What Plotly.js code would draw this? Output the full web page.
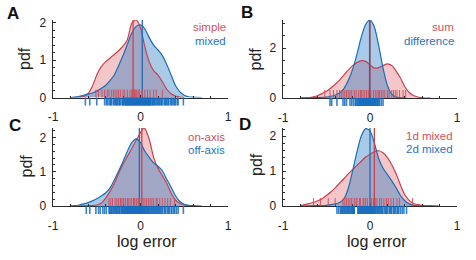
<!DOCTYPE html>
<html><head><meta charset="utf-8">
<script src="https://cdn.plot.ly/plotly-3.0.1.min.js"></script>
<style>html,body{margin:0;padding:0;background:#fff}#chart{width:476px;height:260px}</style>
</head><body><div id="chart"></div>
<script>
// ---------- DATA ----------
// Panel A
const aNames = ['simple', 'mixed'];
const aRedX  = [-0.8,-0.7,-0.65,-0.6,-0.55,-0.5,-0.45,-0.4,-0.35,-0.3,-0.25,-0.2,-0.15,-0.1,-0.05,0,0.05,0.1,0.15,0.2,0.25,0.3,0.35,0.4,0.45,0.5];
const aRedY  = [0,0.01,0.03,0.1,0.3,0.6,0.82,0.95,1.05,1.15,1.25,1.37,1.55,1.98,2.08,1.86,1.35,0.95,0.72,0.6,0.42,0.22,0.1,0.04,0.01,0];
const aBlueX = [-0.8,-0.75,-0.7,-0.65,-0.6,-0.55,-0.5,-0.45,-0.4,-0.35,-0.3,-0.25,-0.2,-0.15,-0.1,-0.05,0,0.05,0.1,0.15,0.2,0.25,0.3,0.35,0.4,0.45,0.5,0.55,0.6,0.7];
const aBlueY = [0,0.01,0.03,0.06,0.09,0.12,0.17,0.24,0.32,0.45,0.6,0.85,1.12,1.42,1.72,1.9,1.94,1.83,1.6,1.4,1.27,1.12,0.88,0.6,0.32,0.15,0.06,0.02,0.01,0];
const aRugRed  = [-0.51,-0.48,-0.44,-0.41,-0.38,-0.36,-0.33,-0.31,-0.29,-0.27,-0.25,-0.23,-0.2,-0.18,-0.15,-0.12,-0.1,-0.09,-0.07,-0.06,-0.05,-0.04,-0.02,-0.01,0.02,0.05,0.08,0.11,0.15,0.18,0.25];
const aRugBlue = [-0.63,-0.58,-0.5,-0.41,-0.39,-0.38,-0.36,-0.345,-0.34,-0.33,-0.31,-0.3,-0.285,-0.28,-0.27,-0.26,-0.245,-0.24,-0.23,-0.21,-0.205,-0.2,-0.19,-0.18,-0.17,-0.165,-0.16,-0.15,-0.145,-0.14,-0.13,-0.125,-0.12,-0.11,-0.105,-0.1,-0.09,-0.085,-0.08,-0.07,-0.065,-0.06,-0.05,-0.045,-0.04,-0.03,-0.025,-0.02,-0.01,-0.005,0,0.01,0.015,0.02,0.03,0.035,0.04,0.05,0.055,0.06,0.07,0.075,0.08,0.09,0.095,0.1,0.11,0.115,0.12,0.135,0.14,0.15,0.16,0.165,0.18,0.19,0.2,0.21,0.22,0.235,0.24,0.25,0.27,0.28,0.29,0.3,0.315,0.32,0.34,0.355,0.36,0.38,0.39,0.4,0.42,0.43,0.49];
const aMed = [-0.085, 0.02];

// Panel B
const bNames = ['sum', 'difference'];
const bRedX  = [-0.8,-0.7,-0.65,-0.6,-0.55,-0.5,-0.45,-0.4,-0.35,-0.3,-0.25,-0.2,-0.15,-0.1,-0.05,0,0.05,0.1,0.15,0.2,0.25,0.3,0.35,0.4,0.45,0.5,0.55,0.6,0.7];
const bRedY  = [0,0.02,0.05,0.1,0.18,0.27,0.4,0.55,0.72,0.92,1.12,1.3,1.42,1.5,1.47,1.33,1.2,1.22,1.3,1.37,1.3,1.08,0.8,0.45,0.22,0.1,0.04,0.01,0];
const bBlueX = [-0.8,-0.7,-0.6,-0.5,-0.45,-0.4,-0.35,-0.3,-0.25,-0.2,-0.15,-0.1,-0.05,0,0.05,0.1,0.15,0.2,0.25,0.3,0.35,0.4];
const bBlueY = [0,0.01,0.02,0.04,0.07,0.12,0.2,0.38,0.7,1.15,1.75,2.45,2.95,3.13,2.85,2.1,1.2,0.5,0.15,0.04,0.01,0];
const bRugRed  = [-0.52,-0.46,-0.42,-0.38,-0.35,-0.33,-0.31,-0.29,-0.27,-0.25,-0.23,-0.21,-0.18,-0.16,-0.13,-0.11,-0.1,-0.08,-0.06,-0.04,-0.02,0.01,0.04,0.06,0.08,0.1,0.11,0.13,0.15,0.17,0.2,0.22,0.25,0.27,0.29,0.31,0.34,0.38,0.41];
const bRugBlue = [-0.46,-0.44,-0.38,-0.31,-0.29,-0.27,-0.23,-0.21,-0.19,-0.17,-0.16,-0.15,-0.14,-0.13,-0.12,-0.115,-0.11,-0.1,-0.095,-0.09,-0.08,-0.075,-0.07,-0.06,-0.055,-0.05,-0.04,-0.035,-0.03,-0.02,-0.015,-0.01,0,0.005,0.01,0.02,0.025,0.03,0.04,0.045,0.05,0.06,0.065,0.07,0.08,0.09,0.1,0.11,0.13,0.15];
const bMed = [0.0, -0.005];

// Panel C
const cNames = ['on-axis', 'off-axis'];
const cRedX  = [-0.8,-0.6,-0.5,-0.45,-0.4,-0.35,-0.3,-0.25,-0.2,-0.15,-0.1,-0.05,0,0.03,0.05,0.1,0.15,0.2,0.25,0.3,0.35,0.4,0.45,0.5,0.6];
const cRedY  = [0,0.01,0.03,0.08,0.22,0.42,0.65,0.95,1.22,1.45,1.68,1.92,2.15,2.27,2.26,1.95,1.42,1.1,0.88,0.66,0.38,0.17,0.08,0.03,0];
const cBlueX = [-0.8,-0.75,-0.7,-0.65,-0.6,-0.55,-0.5,-0.45,-0.4,-0.35,-0.3,-0.25,-0.2,-0.15,-0.1,-0.05,0,0.05,0.1,0.15,0.2,0.25,0.3,0.35,0.4,0.45,0.5,0.55,0.6,0.7];
const cBlueY = [0,0.01,0.03,0.06,0.1,0.15,0.21,0.29,0.38,0.52,0.76,1.02,1.3,1.6,1.85,1.96,1.85,1.6,1.42,1.26,1.16,1.03,0.78,0.55,0.3,0.13,0.05,0.02,0.01,0];
const cRugRed  = [-0.36,-0.34,-0.32,-0.29,-0.27,-0.25,-0.23,-0.22,-0.2,-0.19,-0.17,-0.15,-0.14,-0.12,-0.1,-0.08,-0.07,-0.05,-0.04,-0.02,-0.01,0.01,0.03,0.05,0.07,0.09,0.11,0.13,0.15,0.18,0.19,0.22,0.25,0.28,0.31,0.34,0.39];
const cRugBlue = [-0.62,-0.58,-0.51,-0.48,-0.46,-0.43,-0.41,-0.39,-0.36,-0.35,-0.345,-0.33,-0.325,-0.31,-0.3,-0.29,-0.28,-0.27,-0.265,-0.25,-0.24,-0.235,-0.22,-0.21,-0.205,-0.2,-0.19,-0.18,-0.175,-0.17,-0.16,-0.155,-0.15,-0.14,-0.135,-0.13,-0.12,-0.115,-0.11,-0.1,-0.095,-0.09,-0.08,-0.075,-0.07,-0.06,-0.055,-0.05,-0.04,-0.035,-0.03,-0.02,-0.015,-0.01,0,0.005,0.01,0.02,0.025,0.03,0.04,0.045,0.05,0.06,0.07,0.08,0.085,0.09,0.1,0.11,0.12,0.13,0.14,0.15,0.16,0.17,0.18,0.19,0.2,0.21,0.22,0.23,0.245,0.25,0.27,0.28,0.29,0.31,0.32,0.33,0.35,0.36,0.38,0.39,0.41,0.43,0.49];
const cMed = [0.015, -0.013];

// Panel D
const dNames = ['1d mixed', '2d mixed'];
const dRedX  = [-0.8,-0.75,-0.7,-0.65,-0.6,-0.55,-0.5,-0.45,-0.4,-0.35,-0.3,-0.25,-0.2,-0.15,-0.1,-0.05,0,0.05,0.1,0.15,0.2,0.25,0.3,0.35,0.4,0.45,0.5,0.55,0.6,0.7,0.8];
const dRedY  = [0.01,0.04,0.07,0.1,0.15,0.21,0.3,0.4,0.52,0.65,0.78,0.92,1.04,1.16,1.28,1.4,1.48,1.55,1.58,1.52,1.38,1.18,0.92,0.6,0.32,0.16,0.07,0.04,0.02,0.01,0];
const dBlueX = [-0.8,-0.6,-0.5,-0.45,-0.4,-0.35,-0.3,-0.25,-0.2,-0.15,-0.1,-0.05,0,0.05,0.1,0.15,0.2,0.25,0.3,0.35,0.4,0.45,0.5,0.6];
const dBlueY = [0,0.01,0.02,0.04,0.06,0.1,0.2,0.5,1.0,1.55,2.0,2.21,2.15,1.8,1.35,1.08,0.9,0.72,0.52,0.3,0.15,0.06,0.02,0];
const dRugRed  = [-0.65,-0.57,-0.48,-0.4,-0.31,-0.29,-0.27,-0.25,-0.23,-0.21,-0.18,-0.16,-0.15,-0.12,-0.11,-0.08,-0.07,-0.05,-0.03,0,0.02,0.04,0.06,0.08,0.11,0.13,0.16,0.19,0.21,0.24,0.27,0.31,0.34,0.49];
const dRugBlue = [-0.38,-0.36,-0.34,-0.33,-0.32,-0.31,-0.3,-0.29,-0.28,-0.27,-0.26,-0.25,-0.24,-0.235,-0.22,-0.21,-0.205,-0.2,-0.19,-0.185,-0.18,-0.14,-0.13,-0.125,-0.12,-0.11,-0.105,-0.1,-0.09,-0.085,-0.08,-0.07,-0.065,-0.06,-0.05,-0.045,-0.04,-0.03,-0.025,-0.02,-0.01,-0.005,0,0.01,0.015,0.02,0.03,0.035,0.04,0.05,0.055,0.06,0.07,0.08,0.09,0.1,0.11,0.12,0.13,0.14,0.15,0.17,0.18,0.19,0.2,0.22,0.23,0.24,0.25,0.27,0.28,0.29,0.31,0.32,0.33,0.35,0.37,0.39,0.42];
const dMed = [0.05, 0.0];

const xTickVals = [-1, 0, 1];
const xTickText = ['-1', '0', '1'];
const letters = ['A', 'B', 'C', 'D'];
const xTitle = 'log error';
const yTitle = 'pdf';

// ---------- STYLE / LAYOUT ----------
const W = 476, H = 260;
const FONT = 'Liberation Sans, Arial, Helvetica, sans-serif';
const RED_LINE = '#c8424e', BLUE_LINE = '#1b6db4';
const RED_FILL = 'rgba(215,70,80,0.30)', BLUE_FILL = 'rgba(20,110,190,0.36)';
const RED_TEXT = '#d2525c', BLUE_TEXT = '#1f74c2';
const AX = '#2b2b2b';
const RUG = 8;

const panels = [
  {n:'', names:aNames, red:[aRedX,aRedY], blue:[aBlueX,aBlueY], rugR:aRugRed, rugB:aRugBlue, med:aMed,
   xd:[53,228], yd:[20,97.5], ymax:2.07, yt:[0,1,2], minor:0.2,
   letter:[13.3,13.3], legX:227.5, legY:[26.7,40.7], pdfX:25, pdfY:59, showX:false},
  {n:'2', names:bNames, red:[bRedX,bRedY], blue:[bBlueX,bBlueY], rugR:bRugRed, rugB:bRugBlue, med:bMed,
   xd:[283,457], yd:[20,98], ymax:3.13, yt:[0,2], minor:0.5,
   letter:[247.3,12.8], legX:456, legY:[26.7,40.7], pdfX:255.5, pdfY:59, showX:false},
  {n:'3', names:cNames, red:[cRedX,cRedY], blue:[cBlueX,cBlueY], rugR:cRugRed, rugB:cRugBlue, med:cMed,
   xd:[53,228], yd:[128,206], ymax:2.28, yt:[0,1,2], minor:0.2,
   letter:[14.5,125], legX:226.7, legY:[136.7,150], pdfX:25.5, pdfY:166, showX:true, xtX:146.5},
  {n:'4', names:dNames, red:[dRedX,dRedY], blue:[dBlueX,dBlueY], rugR:dRugRed, rugB:dRugBlue, med:dMed,
   xd:[283,457], yd:[128,206], ymax:2.23, yt:[0,1,2], minor:0.2,
   letter:[245,124.5], legX:455.3, legY:[135.7,149.3], pdfX:256, pdfY:165, showX:true, xtX:376.5}
];

const traces = [], shapes = [], annotations = [];
const layout = {
  width: W, height: H, margin: {l:0, r:0, t:0, b:0},
  paper_bgcolor: '#fff', plot_bgcolor: 'rgba(0,0,0,0)',
  showlegend: false, font: {family: FONT, color: '#222'},
  shapes: shapes, annotations: annotations
};

panels.forEach((p, i) => {
  const xa = 'x' + p.n, ya = 'y' + p.n;
  const plotH = p.yd[1] - p.yd[0];
  const sp = {mode:'lines', xaxis:xa, yaxis:ya, hoverinfo:'skip'};
  traces.push(Object.assign({x:p.red[0], y:p.red[1], fill:'tozeroy', fillcolor:RED_FILL, line:{width:0, shape:'spline', smoothing:0.7}}, sp));
  traces.push(Object.assign({x:p.blue[0], y:p.blue[1], fill:'tozeroy', fillcolor:BLUE_FILL, line:{width:0, shape:'spline', smoothing:0.7}}, sp));
  traces.push(Object.assign({x:p.red[0], y:p.red[1], line:{width:1.2, color:RED_LINE, shape:'spline', smoothing:0.7}}, sp));
  traces.push(Object.assign({x:p.blue[0], y:p.blue[1], line:{width:1.2, color:BLUE_LINE, shape:'spline', smoothing:0.7}}, sp));

  // median lines
  shapes.push({type:'line', xref:xa, yref:ya+' domain', x0:p.med[0], x1:p.med[0], y0:0, y1:1, line:{color:RED_LINE, width:1.3}});
  shapes.push({type:'line', xref:xa, yref:ya+' domain', x0:p.med[1], x1:p.med[1], y0:0, y1:1, line:{color:BLUE_LINE, width:1.3}});
  // rugs
  p.rugR.forEach(v => shapes.push({type:'line', xref:xa, yref:ya+' domain', x0:v, x1:v, y0:0, y1:RUG/plotH, line:{color:'rgba(208,74,86,0.9)', width:1}}));
  p.rugB.forEach(v => shapes.push({type:'line', xref:xa, yref:ya+' domain', x0:v, x1:v, y0:-RUG/plotH, y1:0, line:{color:'rgba(22,108,190,0.85)', width:1.6}}));

  layout['xaxis' + p.n] = {
    domain:[p.xd[0]/W, p.xd[1]/W], anchor:ya, range:[-1,1], fixedrange:true,
    showline:true, linecolor:AX, linewidth:1.3, showgrid:false, zeroline:false,
    ticks:'inside', ticklen:3, tickwidth:1, tickcolor:AX,
    tickvals:xTickVals, ticktext:xTickText, tickfont:{size:12, family:FONT, color:'#222'},
    ticklabelstandoff:8,
    minor:{ticks:'inside', ticklen:2, tickwidth:1, tickcolor:AX, dtick:0.2, tick0:0, showgrid:false}
  };
  layout['yaxis' + p.n] = {
    domain:[1 - p.yd[1]/H, 1 - p.yd[0]/H], anchor:xa, range:[0, p.ymax], fixedrange:true,
    showline:true, linecolor:AX, linewidth:1.3, showgrid:false, zeroline:false,
    ticks:'inside', ticklen:3, tickwidth:1, tickcolor:AX,
    tickvals:p.yt, ticktext:p.yt.map(String), tickfont:{size:12, family:FONT, color:'#222'},
    ticklabelstandoff:3,
    minor:{ticks:'inside', ticklen:2, tickwidth:1, tickcolor:AX, dtick:p.minor, tick0:0, showgrid:false}
  };

  const ann = (x, y, text, o) => annotations.push(Object.assign({xref:'paper', yref:'paper', x:x/W, y:1-y/H, text:text, showarrow:false, xanchor:'center', yanchor:'middle'}, o));
  ann(p.letter[0], p.letter[1], '<b>' + letters[i] + '</b>', {font:{size:17, family:FONT, color:'#111'}});
  ann(p.pdfX, p.pdfY, yTitle, {textangle:-90, font:{size:16, family:FONT, color:'#222'}});
  ann(p.legX, p.legY[0], p.names[0], {xanchor:'right', font:{size:11.5, family:FONT, color:RED_TEXT}});
  ann(p.legX, p.legY[1], p.names[1], {xanchor:'right', font:{size:11.5, family:FONT, color:BLUE_TEXT}});
  if (p.showX) ann(p.xtX, 241.5, xTitle, {font:{size:16, family:FONT, color:'#222'}});
});

Plotly.newPlot('chart', traces, layout, {staticPlot:true, displayModeBar:false});
</script>
</body></html>
